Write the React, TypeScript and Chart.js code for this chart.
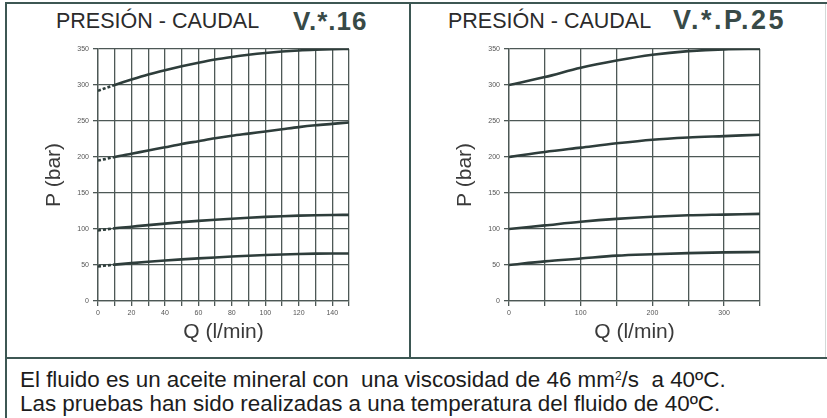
import React, { useEffect, useRef } from "react";
import { Chart, registerables } from "chart.js";

Chart.register(...registerables);

// V.*.16 valve: flow (l/min) and pressure (bar) for each setting
const flow16 = [0, 10, 20, 30, 40, 50, 60, 70, 80, 90, 100, 110, 120, 130, 140, 150];
const p16Set300 = [292, 300, 307.5, 314.5, 320.5, 326, 331, 335.5, 339, 342, 344.5, 346.5, 348, 349, 349.7, 350];
const p16Set200 = [195, 200, 204.5, 209, 213.5, 218, 222, 226, 229.5, 232.5, 235.5, 238.5, 241.5, 244, 246, 248];
const p16Set100 = [98, 101, 103.2, 105.4, 107.5, 109.5, 111.3, 112.9, 114.3, 115.6, 116.8, 117.8, 118.6, 119.2, 119.5, 119.6];
const p16Set50 = [48, 50.5, 52.6, 54.5, 56.2, 57.8, 59.2, 60.5, 61.7, 62.8, 63.8, 64.6, 65.3, 65.8, 66, 66];
const flow16Labels = [0, 20, 40, 60, 80, 100, 120, 140];

// V.*.P.25 valve
const flow25 = [0, 50, 100, 150, 200, 250, 300, 350];
const p25Set300 = [300, 311, 324, 334, 342, 347, 349.5, 350];
const p25Set200 = [200, 207, 213, 219, 224, 227, 229, 231];
const p25Set100 = [100, 105, 110, 114, 117, 119, 120, 121];
const p25Set50 = [50, 55, 59, 63, 65, 66.5, 67.5, 68];
const flow25Labels = [0, 100, 200, 300];

const pressureTicks = [0, 50, 100, 150, 200, 250, 300, 350];

const INK = "#2e3d3b";
const GRID = "#4d5856";
const FRAME = "#3d5753";
const SANS = "'Liberation Sans', Arial, Helvetica, sans-serif";

type ChartProps = {
  flows: number[];
  curves: number[][];
  xMax: number;
  xStep: number;
  xLabels: number[];
  dashedUpTo: number;
  left: number;
};

function FlowChart({ flows, curves, xMax, xStep, xLabels, dashedUpTo, left }: ChartProps) {
  const ref = useRef<HTMLCanvasElement | null>(null);

  useEffect(() => {
    if (!ref.current) return;
    const chart = new Chart(ref.current, {
      type: "line",
      data: {
        datasets: curves.map((c) => ({
          data: flows.map((q, i) => ({ x: q, y: c[i] })),
          borderColor: INK,
          borderWidth: 2.6,
          pointRadius: 0,
          cubicInterpolationMode: "monotone" as const,
          segment: {
            borderDash: (ctx: any) => (ctx.p1.parsed.x <= dashedUpTo ? [3, 2] : undefined),
          },
        })),
      },
      options: {
        responsive: false,
        animation: false,
        devicePixelRatio: 1,
        layout: { padding: { top: 19, right: 21, left: 0, bottom: 0 } },
        plugins: { legend: { display: false }, tooltip: { enabled: false } },
        scales: {
          x: {
            type: "linear",
            min: 0,
            max: xMax,
            ticks: {
              stepSize: xStep,
              autoSkip: false,
              maxRotation: 0,
              padding: 3,
              color: "#555",
              font: { size: 7, family: SANS },
              callback: (v: any) => (xLabels.includes(Number(v)) ? String(v) : ""),
            },
            grid: { color: GRID, lineWidth: 1.3, tickLength: 5 },
            border: { color: GRID, width: 1.3 },
            title: {
              display: true,
              text: "Q (l/min)",
              color: "#3a3a3a",
              font: { size: 21, family: SANS },
              padding: { top: 0, bottom: 5 },
            },
            afterFit: (s: any) => {
              s.height = 49;
            },
          },
          y: {
            type: "linear",
            min: 0,
            max: 350,
            afterBuildTicks: (s: any) => {
              s.ticks = pressureTicks.map((v) => ({ value: v }));
            },
            ticks: {
              padding: 4,
              color: "#555",
              font: { size: 7, family: SANS },
            },
            grid: { color: GRID, lineWidth: 1.3, tickLength: 5 },
            border: { color: GRID, width: 1.3 },
            title: {
              display: true,
              text: "P (bar)",
              color: "#3a3a3a",
              font: { size: 21, family: SANS },
              padding: { top: 2, bottom: 0 },
            },
            afterFit: (s: any) => {
              s.width = 58;
            },
          },
        },
      },
    });
    return () => chart.destroy();
  }, []);

  return (
    <canvas
      ref={ref}
      width={330}
      height={320}
      style={{ position: "absolute", left, top: 30, width: 330, height: 320 }}
    />
  );
}

const line = (l: number, t: number, w: number, h: number, c = FRAME) => (
  <div style={{ position: "absolute", left: l, top: t, width: w, height: h, background: c }} />
);

export default function App() {
  const titleStyle: React.CSSProperties = {
    position: "absolute",
    top: 11,
    fontFamily: SANS,
    fontSize: 21.5,
    lineHeight: "21.5px",
    color: "#2b2b2b",
    whiteSpace: "nowrap",
  };
  const codeStyle: React.CSSProperties = {
    position: "absolute",
    fontFamily: SANS,
    fontWeight: "bold",
    color: "#384a47",
    whiteSpace: "nowrap",
  };
  const noteStyle: React.CSSProperties = {
    position: "absolute",
    left: 20,
    fontFamily: SANS,
    fontSize: 22.4,
    lineHeight: "22px",
    color: "#1c1c1c",
    whiteSpace: "pre",
  };

  return (
    <div
      style={{
        position: "absolute",
        left: 0,
        top: 0,
        width: 827,
        height: 418,
        background: "#fff",
        overflow: "hidden",
      }}
    >
      {line(5, 2, 822, 2)}
      {line(5, 2, 2, 416)}
      {line(409, 2, 2, 357)}
      {line(5, 357, 822, 2)}
      {line(825, 4, 1, 353, "#d3d9d8")}

      <div style={{ ...titleStyle, left: 56 }}>PRESIÓN - CAUDAL</div>
      <div style={{ ...codeStyle, left: 293, top: 8, fontSize: 26, lineHeight: "26px", letterSpacing: 1 }}>
        V.*.16
      </div>
      <div style={{ ...titleStyle, left: 448 }}>PRESIÓN - CAUDAL</div>
      <div style={{ ...codeStyle, left: 673, top: 7, fontSize: 27, lineHeight: "27px", letterSpacing: 2.5 }}>
        V.*.P.25
      </div>

      <FlowChart
        flows={flow16}
        curves={[p16Set300, p16Set200, p16Set100, p16Set50]}
        xMax={150}
        xStep={10}
        xLabels={flow16Labels}
        dashedUpTo={10}
        left={40}
      />
      <FlowChart
        flows={flow25}
        curves={[p25Set300, p25Set200, p25Set100, p25Set50]}
        xMax={350}
        xStep={50}
        xLabels={flow25Labels}
        dashedUpTo={-1}
        left={451}
      />

      <div style={{ ...noteStyle, top: 369 }}>
        El fluido es un aceite mineral con  una viscosidad de 46 mm
        <sup style={{ fontSize: 12, verticalAlign: "7px", lineHeight: 0 }}>2</sup>/s  a 40ºC.
      </div>
      <div style={{ ...noteStyle, top: 393 }}>
        Las pruebas han sido realizadas a una temperatura del fluido de 40ºC.
      </div>
    </div>
  );
}
